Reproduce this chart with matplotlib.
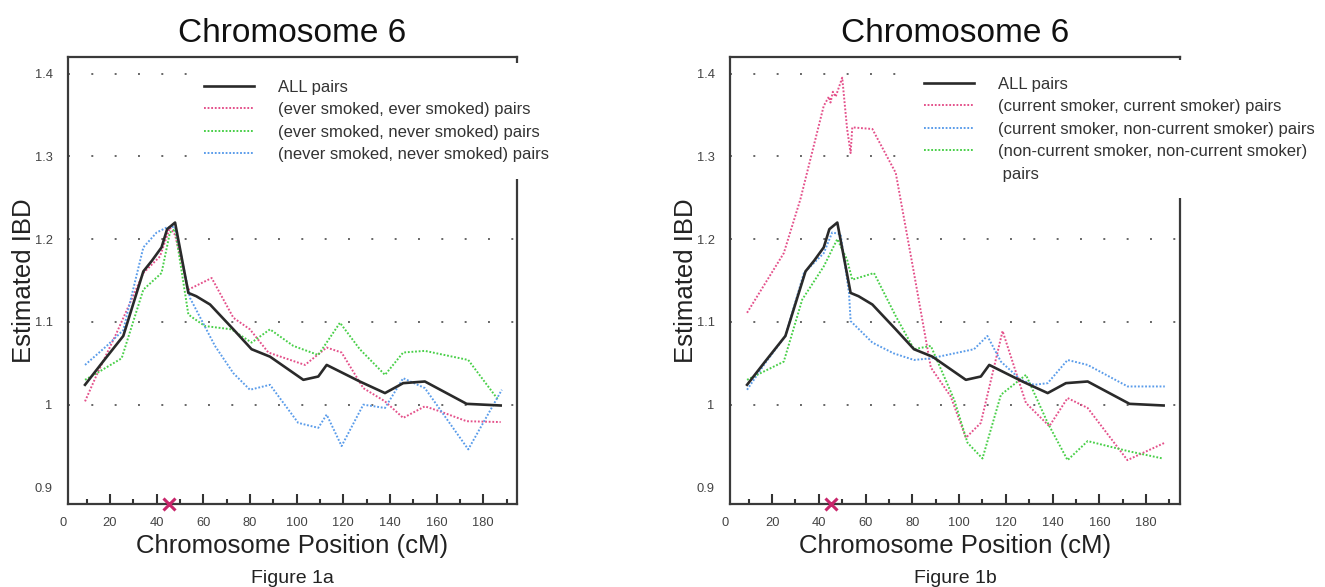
import matplotlib
matplotlib.use("Agg")
import matplotlib.pyplot as plt
from matplotlib.lines import Line2D
from matplotlib.ticker import MultipleLocator, FixedLocator

plt.rcParams['font.family'] = ['Liberation Sans', 'DejaVu Sans']
plt.rcParams['lines.scale_dashes'] = False

# ---------------- data ----------------
all_x = [9.3, 17, 25.7, 34.3, 38, 42.1, 44.5, 47.9, 53.6, 57, 62.9, 72.9, 80.7, 88.6,
         102.9, 109.3, 112.9, 127.1, 137.9, 145.7, 155, 172.9, 187.5]
all_y = [1.024, 1.052, 1.083, 1.161, 1.174, 1.190, 1.212, 1.220, 1.135, 1.131, 1.121,
         1.091, 1.067, 1.058, 1.030, 1.034, 1.048, 1.028, 1.014, 1.026, 1.028, 1.001, 0.999]

# Figure 1a
ee_x = [9.3, 14.3, 22.9, 34.3, 41.4, 45.7, 47.9, 53.6, 63.6, 72.9, 80, 87.9, 103.6,
        112.9, 119.3, 128.6, 137.9, 145.7, 155, 161.4, 172.9, 187.5]
ee_y = [1.004, 1.036, 1.087, 1.159, 1.179, 1.214, 1.205, 1.139, 1.153, 1.105, 1.091,
        1.063, 1.048, 1.069, 1.063, 1.020, 1.004, 0.984, 0.998, 0.992, 0.980, 0.979]

en_x = [9.3, 14.3, 25, 34.3, 42.1, 45.7, 47.9, 53.6, 55.5, 60.7, 72.1, 80.7, 88.6,
        98.6, 109.3, 118.6, 127.1, 137.9, 145.7, 155, 173.6, 186.4]
en_y = [1.030, 1.038, 1.056, 1.139, 1.159, 1.208, 1.212, 1.109, 1.105, 1.095, 1.091,
        1.075, 1.091, 1.071, 1.060, 1.099, 1.067, 1.036, 1.063, 1.065, 1.054, 1.006]

nn_x = [9.3, 18.6, 25.7, 34.3, 40, 44.3, 47.9, 54.3, 65, 72.9, 80, 88.6, 100.7,
        109.3, 112.9, 119.3, 128.6, 137.9, 145.7, 155, 173.6, 188]
nn_y = [1.048, 1.071, 1.090, 1.190, 1.208, 1.214, 1.215, 1.129, 1.071, 1.038, 1.018,
        1.024, 0.978, 0.972, 0.988, 0.950, 1.000, 0.996, 1.032, 1.020, 0.946, 1.018]

# Figure 1b
cc_x = [9.3, 25, 32.1, 42.1, 44.3, 45, 46, 47.2, 50, 52.1, 53.6, 54.3, 62.9, 72.9,
        80.7, 87.9, 96.4, 102.9, 109.3, 118.6, 128.6, 138.6, 146.4, 155, 172, 188]
cc_y = [1.111, 1.183, 1.248, 1.361, 1.372, 1.365, 1.378, 1.372, 1.395, 1.333, 1.304,
        1.335, 1.333, 1.280, 1.159, 1.045, 1.010, 0.960, 0.978, 1.089, 1.002, 0.974,
        1.008, 0.996, 0.933, 0.954]

cn_x = [9.3, 17, 25.7, 33.6, 42.1, 45.7, 49.3, 52.9, 53.6, 62.9, 72, 80.7, 87.9,
        106.4, 112.1, 117.9, 126.4, 132.1, 137.9, 146.4, 155, 172.1, 188]
cn_y = [1.018, 1.050, 1.083, 1.159, 1.183, 1.208, 1.206, 1.135, 1.101, 1.075, 1.062,
        1.054, 1.056, 1.067, 1.083, 1.052, 1.030, 1.024, 1.026, 1.054, 1.048, 1.022, 1.022]

ncnc_x = [9.3, 25, 32.9, 42.1, 47.9, 52.1, 54.3, 63.6, 72.9, 80.7, 87.9, 97.9, 103.6,
          110, 117.9, 128.6, 137.9, 146.4, 155, 172.1, 187.1]
ncnc_y = [1.030, 1.052, 1.127, 1.167, 1.200, 1.175, 1.151, 1.159, 1.107, 1.067, 1.071,
          1.006, 0.954, 0.935, 1.012, 1.036, 0.978, 0.933, 0.956, 0.944, 0.935]

marker_pos = 45.3

labels_a = ["ALL pairs", "(ever smoked, ever smoked) pairs",
            "(ever smoked, never smoked) pairs", "(never smoked, never smoked) pairs"]
labels_b = ["ALL pairs", "(current smoker, current smoker) pairs",
            "(current smoker, non-current smoker) pairs",
            "(non-current smoker, non-current smoker)", " pairs"]

yticks = [0.9, 1.0, 1.1, 1.2, 1.3, 1.4]
ytick_labels = ["0.9", "1", "1.1", "1.2", "1.3", "1.4"]
xticks = [0, 20, 40, 60, 80, 100, 120, 140, 160, 180]

PINK = '#e4508a'
GREEN = '#48cf48'
BLUE = '#5a9cea'
BLACK = '#2a2a2a'
DOT = (0, (1.3, 1.3))

# ---------------- figure ----------------
W, H = 1325, 587
fig = plt.figure(figsize=(W / 100, H / 100), dpi=100)

def px_axes(x0, y0, x1, y1):
    return fig.add_axes([x0 / W, 1 - y1 / H, (x1 - x0) / W, (y1 - y0) / H])

ax1 = px_axes(68, 57, 517, 504)
ax2 = px_axes(730, 57, 1180, 504)

TICK_FS = 9.3

def style(ax, title, figlabel):
    ax.set_xlim(2, 194.5)
    ax.set_ylim(0.88, 1.42)
    ax.xaxis.set_major_locator(FixedLocator(xticks))
    ax.xaxis.set_minor_locator(MultipleLocator(10))
    ax.set_xticklabels([str(t) for t in xticks])
    ax.yaxis.set_major_locator(FixedLocator(yticks))
    ax.set_yticklabels(ytick_labels)
    ax.tick_params(axis='x', which='major', direction='in', length=7, width=1.5,
                   color='#333333', labelsize=TICK_FS, labelcolor='#444444', pad=9.5)
    ax.tick_params(axis='x', which='minor', direction='in', length=3.5, width=1.5,
                   color='#333333')
    ax.tick_params(axis='y', which='major', length=0, labelsize=TICK_FS,
                   labelcolor='#444444', pad=11)
    for s in ax.spines.values():
        s.set_color('#3a3a3a')
        s.set_linewidth(1.6)
    ax.yaxis.grid(True, linestyle=(0, (1.4, 15.4)), color='#666666', linewidth=1.4)
    ax.get_ygridlines()[0].set_visible(False)
    ax.set_axisbelow(True)
    # the "0" tick label lies just left of the axes' x-range
    ax.text(xticks[0], -0.0285, str(xticks[0]), transform=ax.get_xaxis_transform(),
            ha='center', va='top', fontsize=TICK_FS, color='#444444', clip_on=False)
    ax.set_xlabel("Chromosome Position (cM)", fontsize=18.5, color='#222222')
    ax.xaxis.set_label_coords(0.5, -0.068)
    ax.set_ylabel("Estimated IBD", fontsize=18.5, color='#222222')
    ax.yaxis.set_label_coords(-0.071, 0.5)
    ax.set_title(title, fontsize=24, color='#111111', pad=11)
    bb = ax.get_position()
    fig.text(bb.x0 + bb.width / 2, 1 - 583 / H, figlabel, fontsize=14,
             ha='center', va='baseline', color='#222222')
    ax.plot([marker_pos], [0.88], marker='x', color='#c8266b', markersize=8,
            markeredgewidth=2.2, linestyle='none', clip_on=False, zorder=10)

style(ax1, "Chromosome 6", "Figure 1a")
style(ax2, "Chromosome 6", "Figure 1b")

# Figure 1a lines
l0, = ax1.plot(all_x, all_y, color=BLACK, lw=1.9, zorder=5)
l1, = ax1.plot(ee_x, ee_y, color=PINK, lw=1.4, linestyle=DOT)
l2, = ax1.plot(en_x, en_y, color=GREEN, lw=1.4, linestyle=DOT)
l3, = ax1.plot(nn_x, nn_y, color=BLUE, lw=1.4, linestyle=DOT)

# Figure 1b lines
m0, = ax2.plot(all_x, all_y, color=BLACK, lw=1.9, zorder=5)
m1, = ax2.plot(cc_x, cc_y, color=PINK, lw=1.4, linestyle=DOT)
m2, = ax2.plot(cn_x, cn_y, color=BLUE, lw=1.4, linestyle=DOT)
m3, = ax2.plot(ncnc_x, ncnc_y, color=GREEN, lw=1.4, linestyle=DOT)
blank = Line2D([], [], linestyle='none')

leg_kw = dict(loc='upper left', frameon=True, fontsize=12, handlelength=3.0,
              handletextpad=1.45, labelspacing=0.45, borderpad=1.0,
              borderaxespad=0, fancybox=False, labelcolor='#333333')

lg1 = ax1.legend([l0, l1, l2, l3], labels_a,
                 bbox_to_anchor=(187 / W, 1 - 63 / H),
                 bbox_transform=fig.transFigure, **leg_kw)
lg2 = ax2.legend([m0, m1, m2, m3, blank], labels_b,
                 bbox_to_anchor=(907 / W, 1 - 60 / H),
                 bbox_transform=fig.transFigure, **leg_kw)
for lg in (lg1, lg2):
    fr = lg.get_frame()
    fr.set_edgecolor('none')
    fr.set_facecolor('white')
    fr.set_alpha(1.0)
    lg.set_zorder(20)
    lg.set_clip_on(False)

fig.savefig("out.png", dpi=100, facecolor='white')
